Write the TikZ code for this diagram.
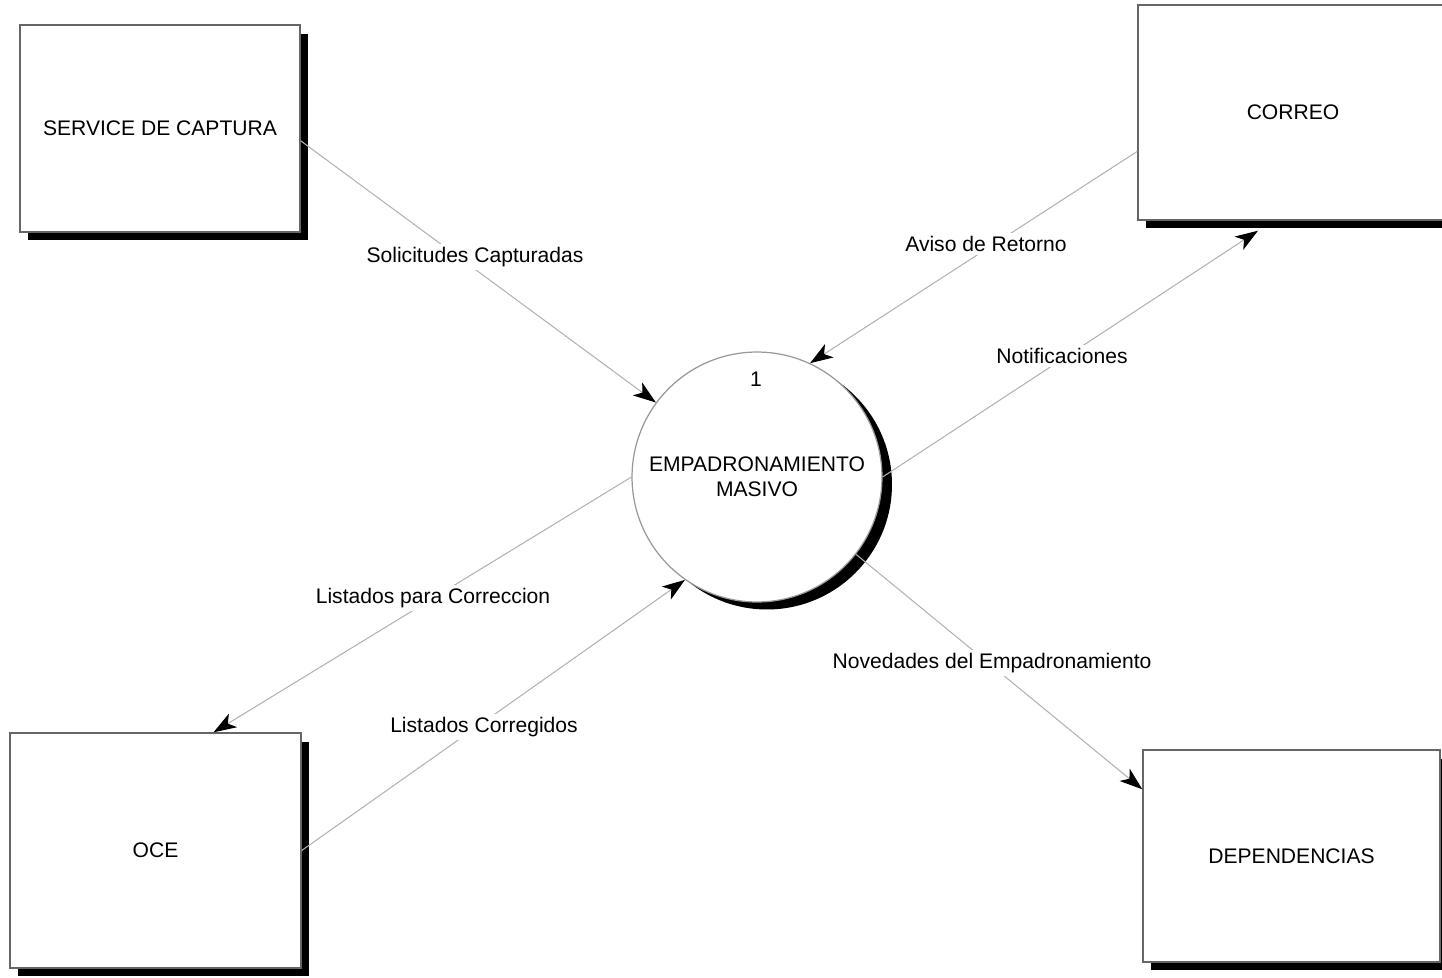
\documentclass[tikz,border=0pt]{standalone}
\usepackage{fontspec}
\setmainfont{Liberation Sans}
\usetikzlibrary{arrows.meta,shadows,calc}
\begin{document}
\begin{tikzpicture}[x=0.02cm,y=-0.02cm,
  every node/.style={font=\fontsize{12}{14.4}\selectfont},
  entity/.style={draw=black!60, line width=0.8pt, fill=white, inner sep=0pt,
    general shadow={fill=black, shadow xshift=0.16cm, shadow yshift=-0.17cm}},
  procbox/.style={circle, draw=black!40, line width=0.7pt, fill=white, inner sep=0pt,
    minimum size=5.0cm, align=center,
    general shadow={fill=black, shadow xshift=0.2cm, shadow yshift=-0.15cm}},
  flow/.style={draw=black!30, line width=0.6pt, -{Stealth[length=13pt,width=9pt,inset=3.5pt,black]}},
  lab/.style={fill=white, inner sep=2pt}]
\useasboundingbox (0,0) rectangle (1442,977);
\clip (0,0) rectangle (1442,977);

\node[entity, minimum width=5.6cm, minimum height=4.14cm] (svc) at (160,128.5) {SERVICE DE CAPTURA};
\node[entity, minimum width=6.2cm, minimum height=4.3cm] (correo) at (1293,112.5) {CORREO};
\node[entity, minimum width=5.82cm, minimum height=4.7cm] (oce) at (155.5,850.5) {OCE};
\node[entity, minimum width=5.94cm, minimum height=4.24cm] (dep) at (1291.5,856) {DEPENDENCIAS};
\node[procbox] (proc) at (757,477) {EMPADRONAMIENTO\\MASIVO};
\node (num) at (756,379) {1};

\coordinate (cin) at ($(correo.south)+(-35,10)$);
\coordinate (ocein) at ($(oce.north)+(58,0)$);
\coordinate (depin) at ($(dep.north west)+(0,40)$);

\draw[flow] (svc.-5) -- (proc);
\draw[flow] (correo.194) -- (proc.65);
\draw[flow] (proc.east) -- (cin);
\draw[flow] (proc.west) -- (ocein);
\draw[flow] (oce.east) -- (proc.235);
\draw[flow] (proc.-38) -- (depin);

\node[lab] (l1) at (475,257) {Solicitudes Capturadas};
\node[lab] (l2) at (986,244) {Aviso de Retorno};
\node[lab] (l3) at (1062,356) {Notificaciones};
\node[lab] (l4) at (433,598) {Listados para Correccion};
\node[lab] (l5) at (484,727) {Listados Corregidos};
\node[lab] (l6) at (992,663) {Novedades del Empadronamiento};
\end{tikzpicture}
\end{document}
